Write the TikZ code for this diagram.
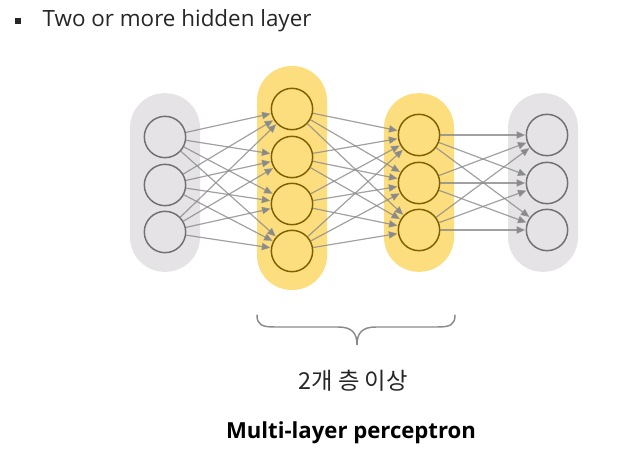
\documentclass[tikz,border=0pt]{standalone}
\usepackage{fontspec}
\setmainfont{Open Sans}
\newfontfamily\kr{Noto Sans CJK KR}
\usetikzlibrary{arrows.meta}
\definecolor{boxgray}{HTML}{E5E3E6}
\definecolor{boxyellow}{HTML}{FDDE7E}
\definecolor{ringgray}{HTML}{707070}
\definecolor{ringgold}{HTML}{7F6000}
\definecolor{linkgray}{HTML}{8A8A8A}
\definecolor{txt}{HTML}{262626}
\tikzset{
  layerbox/.style={rectangle, rounded corners=26pt, minimum width=52.5pt, inner sep=0pt},
  graybox/.style={layerbox, fill=boxgray},
  yellowbox/.style={layerbox, fill=boxyellow},
  neuron/.style={circle, minimum size=31pt, inner sep=0pt, line width=1.1pt},
  grayneuron/.style={neuron, draw=ringgray, fill=boxgray},
  goldneuron/.style={neuron, draw=ringgold, fill=boxyellow},
  link/.style={draw=linkgray, draw opacity=0.8, line width=0.9pt, -{Triangle[length=6.5pt,width=5.5pt,fill=linkgray]}, shorten >=0.3pt},
}
\begin{document}
\begin{tikzpicture}[x=0.75pt,y=-0.75pt]
\useasboundingbox (0,0) rectangle (643,460);
% layer boxes
\node[graybox, minimum height=134pt] (L1) at (165,182.5) {};
\node[yellowbox, minimum height=168pt] (L2) at (292,178) {};
\node[yellowbox, minimum height=134pt] (L3) at (419,182.5) {};
\node[graybox, minimum height=134pt] (L4) at (543,182.5) {};
% neurons
\foreach \i/\y in {1/137,2/185,3/232} \node[grayneuron] (a\i) at (165,\y) {};
\foreach \i/\y in {1/109,2/157,3/204,4/251} \node[goldneuron] (b\i) at (292,\y) {};
\foreach \i/\y in {1/135,2/183,3/230} \node[goldneuron] (c\i) at (419,\y) {};
\foreach \i/\y in {1/135,2/183,3/230} \node[grayneuron] (d\i) at (547,\y) {};
% links
\foreach \i in {1,2,3} \foreach \j in {1,2,3,4} \draw[link] (a\i) -- (b\j);
\foreach \i in {1,2,3,4} \foreach \j in {1,2,3} \draw[link] (b\i) -- (c\j);
\foreach \i in {1,2,3} \foreach \j in {1,2,3} \draw[link] (c\i) -- (d\j);
% brace
\draw[draw=linkgray, line width=1.1pt, line cap=round]
  (257,315) .. controls (257,325) and (262,327) .. (275,327) -- (338,327)
  .. controls (352,327) and (357,333) .. (357,345)
  .. controls (357,333) and (362,327) .. (376,327) -- (437,327)
  .. controls (450,327) and (455,325) .. (455,315);
% texts
\node[fill=txt, minimum size=4.8pt, inner sep=0pt] (bul) at (18,21) {};
\node[anchor=west, text=txt, font=\fontsize{16.8}{20}\selectfont] (head) at (38,21) {Two or more hidden layer};
\node[text=txt, font=\kr\fontsize{17.5}{20}\selectfont] (lbl) at (353,381) {2개 층 이상};
\node[text=black, font=\bfseries\fontsize{16.6}{20}\selectfont] (title) at (351,433) {Multi-layer perceptron};
\end{tikzpicture}
\end{document}
